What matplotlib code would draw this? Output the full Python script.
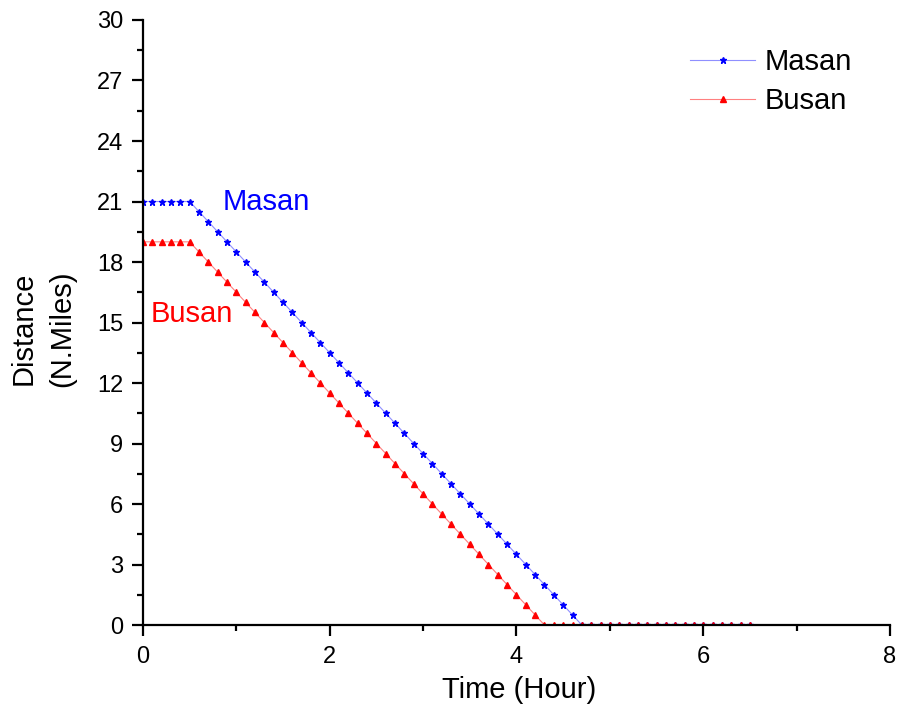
import matplotlib
matplotlib.use("Agg")
import matplotlib.pyplot as plt
from matplotlib.ticker import MultipleLocator

plt.rcParams['font.family'] = ['Liberation Sans', 'DejaVu Sans']

time_hours = [round(0.1 * i, 1) for i in range(66)]

masan = [21, 21, 21, 21, 21, 21,
         20.5, 20, 19.5, 19, 18.5, 18, 17.5, 17, 16.5, 16,
         15.5, 15, 14.5, 14, 13.5, 13, 12.5, 12, 11.5, 11,
         10.5, 10, 9.5, 9, 8.5, 8, 7.5, 7, 6.5, 6,
         5.5, 5, 4.5, 4, 3.5, 3, 2.5, 2, 1.5, 1, 0.5, 0,
         0, 0, 0, 0, 0, 0, 0, 0, 0, 0, 0, 0, 0, 0, 0, 0, 0, 0]

busan = [19, 19, 19, 19, 19, 19,
         18.5, 18, 17.5, 17, 16.5, 16, 15.5, 15, 14.5, 14,
         13.5, 13, 12.5, 12, 11.5, 11, 10.5, 10, 9.5, 9,
         8.5, 8, 7.5, 7, 6.5, 6, 5.5, 5, 4.5, 4,
         3.5, 3, 2.5, 2, 1.5, 1, 0.5, 0,
         0, 0, 0, 0, 0, 0, 0, 0, 0, 0, 0, 0, 0, 0, 0, 0, 0, 0,
         0, 0, 0, 0]

series_names = ["Masan", "Busan"]

fig = plt.figure(figsize=(8.99, 7.14), dpi=100)
ax = fig.add_axes([0.159, 0.1246, 0.831, 0.8474])

ax.plot(time_hours, masan, color='#8f8fff', lw=0.8, marker='*', ms=5,
        mfc='#0000ff', mec='#0000ff', label=series_names[0], zorder=3)
ax.plot(time_hours, busan, color='#ff8080', lw=0.8, marker='^', ms=4.5,
        mfc='#ff0000', mec='#ff0000', label=series_names[1], zorder=3)

ax.set_xlim(0, 8)
ax.set_ylim(0, 30)
ax.xaxis.set_major_locator(MultipleLocator(2))
ax.xaxis.set_minor_locator(MultipleLocator(1))
ax.yaxis.set_major_locator(MultipleLocator(3))
ax.yaxis.set_minor_locator(MultipleLocator(1.5))

for s in ['top', 'right']:
    ax.spines[s].set_visible(False)
for s in ['left', 'bottom']:
    ax.spines[s].set_linewidth(1.6)
    ax.spines[s].set_zorder(5)

ax.tick_params(which='major', direction='out', length=8, width=1.6, labelsize=17)
ax.tick_params(axis='y', which='major', pad=6)
ax.tick_params(axis='x', which='major', pad=7)
ax.tick_params(which='minor', direction='out', length=4.5, width=1.6)

ax.set_xlabel("Time (Hour)", fontsize=21)
ax.xaxis.set_label_coords(0.503, -0.085)
ax.set_ylabel("Distance\n(N.Miles)", fontsize=21, linespacing=1.5)
ax.yaxis.set_label_coords(-0.089, 0.49)

ax.text(0.85, 21, "Masan", color='#0000ff', fontsize=21, va='center', ha='left')
ax.text(0.08, 15.4, "Busan", color='#ff0000', fontsize=21, va='center', ha='left')

ax.legend(loc='upper left', bbox_to_anchor=(0.732, 0.954), frameon=False,
          fontsize=21, numpoints=1, handlelength=2.25, handletextpad=0.3,
          labelspacing=0.4, borderaxespad=0, borderpad=0)

fig.savefig("out.png", dpi=100)
